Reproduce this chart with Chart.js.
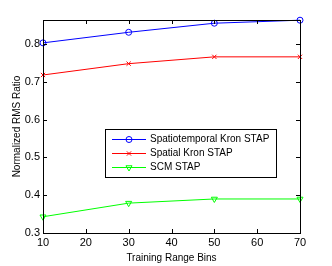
<!DOCTYPE html>
<html>
<head>
<meta charset="utf-8">
<script src="https://cdn.jsdelivr.net/npm/chart.js@4.4.0/dist/chart.umd.min.js"></script>
<style>
  html, body { margin: 0; padding: 0; background: #fff; }
  #wrap { width: 332px; height: 266px; position: relative; }
</style>
</head>
<body>
<div id="wrap"><canvas id="chart"></canvas></div>
<script>
const bins = [10, 30, 50, 70];
const spatiotemporal = [0.803, 0.831, 0.855, 0.863];
const spatial = [0.718, 0.748, 0.766, 0.766];
const scm = [0.343, 0.379, 0.390, 0.390];
const xTicks = [10, 20, 30, 40, 50, 60, 70];
const yTicks = [0.3, 0.4, 0.5, 0.6, 0.7, 0.8];

const font = "'Liberation Sans', Arial, sans-serif";

// box, inward ticks and legend drawn like matlab
const matlabBox = {
  id: "matlabBox",
  afterDatasetsDraw(chart) {
    const { ctx, chartArea: a, scales } = chart;
    ctx.save();
    ctx.strokeStyle = "#000";
    ctx.lineWidth = 1;
    ctx.beginPath();
    xTicks.forEach((t) => {
      const x = Math.round(scales.x.getPixelForValue(t)) + 0.5;
      ctx.moveTo(x, a.bottom); ctx.lineTo(x, a.bottom - 4);
      ctx.moveTo(x, a.top); ctx.lineTo(x, a.top + 4);
    });
    yTicks.forEach((t) => {
      const y = Math.round(scales.y.getPixelForValue(t)) + 0.5;
      ctx.moveTo(a.left, y); ctx.lineTo(a.left + 4, y);
      ctx.moveTo(a.right, y); ctx.lineTo(a.right - 4, y);
    });
    ctx.stroke();
    ctx.strokeRect(Math.round(a.left) + 0.5, Math.round(a.top) + 0.5,
      Math.round(a.right - a.left), Math.round(a.bottom - a.top));

    // legend
    const lx = 105, ly = 129, lw = 171, lh = 48;
    ctx.fillStyle = "#fff";
    ctx.fillRect(lx, ly, lw, lh);
    ctx.strokeRect(lx + 0.5, ly + 0.5, lw, lh);
    ctx.font = "10px " + font;
    ctx.textBaseline = "middle";
    chart.data.datasets.forEach((ds, i) => {
      const y = ly + 10 + i * 14 + 0.5;
      ctx.strokeStyle = ds.borderColor;
      ctx.beginPath();
      ctx.moveTo(lx + 7, y); ctx.lineTo(lx + 41, y);
      ctx.stroke();
      ctx.fillStyle = "rgba(0,0,0,0)";
      Chart.helpers.drawPoint(ctx, {
        pointStyle: ds.pointStyle, radius: ds.pointRadius,
        rotation: ds.pointRotation || 0, borderWidth: 1
      }, lx + 24, y);
      ctx.fillStyle = "#000";
      ctx.fillText(ds.label, lx + 45, y);
    });
    ctx.restore();
  }
};

new Chart(document.getElementById("chart"), {
  type: "line",
  data: {
    datasets: [
      {
        label: "Spatiotemporal Kron STAP",
        data: bins.map((b, i) => ({ x: b, y: spatiotemporal[i] })),
        borderColor: "#0000ff",
        pointStyle: "circle",
        pointRadius: 3
      },
      {
        label: "Spatial Kron STAP",
        data: bins.map((b, i) => ({ x: b, y: spatial[i] })),
        borderColor: "#ff0000",
        pointStyle: "crossRot",
        pointRadius: 3
      },
      {
        label: "SCM STAP",
        data: bins.map((b, i) => ({ x: b, y: scm[i] })),
        borderColor: "#00ff00",
        pointStyle: "triangle",
        pointRotation: 180,
        pointRadius: 3.5
      }
    ].map((d) => Object.assign({
      borderWidth: 1,
      backgroundColor: "transparent",
      pointBackgroundColor: "transparent",
      pointBorderColor: d.borderColor,
      pointBorderWidth: 1,
      tension: 0,
      clip: false
    }, d))
  },
  options: {
    responsive: true,
    maintainAspectRatio: false,
    animation: false,
    layout: { padding: { top: 20, right: 32, left: 0, bottom: 2 } },
    plugins: { legend: { display: false }, tooltip: { enabled: false } },
    scales: {
      x: {
        type: "linear",
        min: 10, max: 70,
        afterBuildTicks(scale) { scale.ticks = xTicks.map((v) => ({ value: v })); },
        afterFit(scale) { scale.height = 31; },
        grid: { display: false, drawTicks: false },
        border: { display: false },
        ticks: { color: "#000", font: { family: font, size: 11 }, padding: 3, maxRotation: 0 },
        title: { display: true, text: "Training Range Bins", color: "#000", font: { family: font, size: 10 }, padding: { top: 2, bottom: 0 } }
      },
      y: {
        min: 0.3, max: 0.8635,
        afterBuildTicks(scale) { scale.ticks = yTicks.map((v) => ({ value: v })); },
        afterFit(scale) { scale.width = 43; },
        grid: { display: false, drawTicks: false },
        border: { display: false },
        ticks: { color: "#000", font: { family: font, size: 11 }, padding: 3, callback: (v) => v.toFixed(1) },
        title: { display: true, text: "Normalized RMS Ratio", color: "#000", font: { family: font, size: 10 }, padding: { top: 11, bottom: 2 } }
      }
    }
  },
  plugins: [matlabBox]
});
</script>
</body>
</html>
